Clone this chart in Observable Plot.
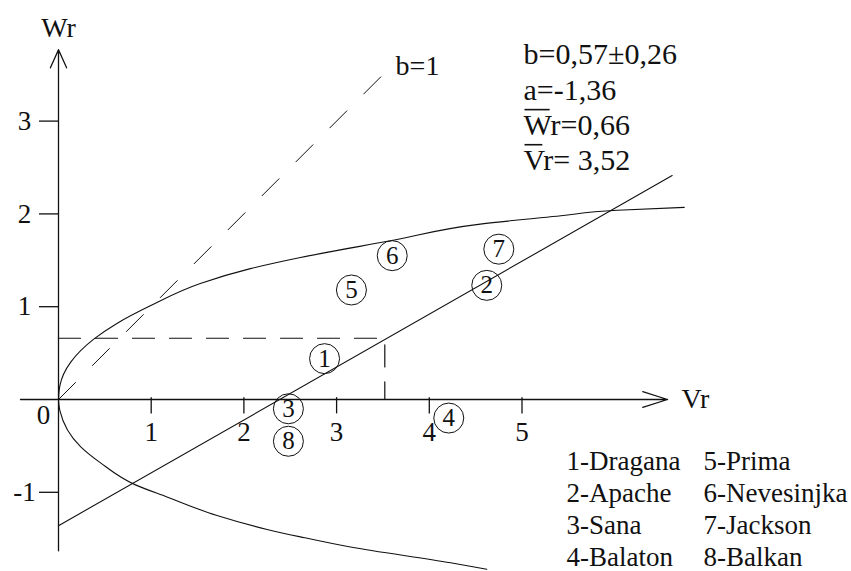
<!DOCTYPE html>
<html>
<head>
<meta charset="utf-8">
<script src="https://cdn.jsdelivr.net/npm/d3@7"></script>
<script src="https://cdn.jsdelivr.net/npm/@observablehq/plot@0.6"></script>
<style>
  html, body { margin: 0; padding: 0; background: #fff; }
  #chart svg { display: block; }
</style>
</head>
<body>
<div id="chart"></div>
<script>
// Genotypes placed on the Vr–Wr plane
const genotypeIds = ["1", "2", "3", "4", "5", "6", "7", "8"];
const genotypeVr  = [2.87, 4.62, 2.48, 4.21, 3.16, 3.60, 4.75, 2.48];
const genotypeWr  = [0.44, 1.23, -0.10, -0.20, 1.18, 1.55, 1.62, -0.45];

// Limiting parabola, upper and lower branches
const parabolaUpperVr = [0, 0.015, 0.13, 0.38, 0.63, 0.99, 1.53, 2.07, 2.61, 3.58, 4.55, 5.42, 6.03, 6.75];
const parabolaUpperWr = [0, 0.15, 0.40, 0.65, 0.82, 1.01, 1.25, 1.41, 1.53, 1.71, 1.89, 1.98, 2.04, 2.07];
const parabolaLowerVr = [0, 0.015, 0.24, 0.45, 0.83, 1.17, 1.71, 2.25, 2.61, 3.15, 4.23, 4.62];
const parabolaLowerWr = [0, -0.12, -0.51, -0.68, -0.92, -1.05, -1.25, -1.40, -1.48, -1.59, -1.76, -1.83];

// Regression of Wr on Vr and the means
const slopeB = 0.57;
const slopeErr = 0.26;
const interceptA = -1.36;
const meanWr = 0.66;
const meanVr = 3.52;
const regressionVrEnd = 6.62;
const unitSlopeEnd = 3.55;

// Axis ticks and extents
const xTicks = [1, 2, 3, 4, 5];
const yTicks = [-1, 1, 2, 3];
const xAxisExtent = [-0.41, 6.57];
const yAxisExtent = [-1.63, 3.77];

// Legend
const legendLeft  = ["1-Dragana", "2-Apache", "3-Sana", "4-Balaton"];
const legendRight = ["5-Prima", "6-Nevesinjka", "7-Jackson", "8-Balkan"];

const fmt = v => String(v).replace(".", ",");
const statLines = [
  `b=${fmt(slopeB)}±${fmt(slopeErr)}`,
  `a=${fmt(interceptA)}`,
  `Wr=${fmt(meanWr)}`,
  `Vr= ${fmt(meanVr)}`
];

const genotypes = genotypeIds.map((id, i) => ({id, vr: genotypeVr[i], wr: genotypeWr[i]}));
const upper = parabolaUpperVr.map((v, i) => ({vr: v, wr: parabolaUpperWr[i]}));
const lower = parabolaLowerVr.map((v, i) => ({vr: v, wr: parabolaLowerWr[i]}));
const regression = [0, regressionVrEnd].map(v => ({vr: v, wr: interceptA + slopeB * v}));
const unitLine = [0, unitSlopeEnd].map(v => ({vr: v, wr: v}));
const meanGuide = [
  {vr: 0, wr: meanWr},
  {vr: meanVr, wr: meanWr},
  {vr: meanVr, wr: 0}
];

const ink = "#111";
const serif = "'Liberation Serif', 'Times New Roman', serif";

const chart = Plot.plot({
  width: 851,
  height: 571,
  margin: 0,
  x: {domain: [0, 5], range: [58, 521.5], axis: null},
  y: {domain: [0, 3], range: [399, 120.6], axis: null},
  style: {fontFamily: serif, background: "#fff", color: ink},
  marks: [
    // axes with open arrowheads
    Plot.arrow([0], {x1: xAxisExtent[0], x2: xAxisExtent[1], y1: 0, y2: 0,
      stroke: ink, strokeWidth: 1.3, headAngle: 35, headLength: 30}),
    Plot.arrow([0], {x1: 0, x2: 0, y1: yAxisExtent[0], y2: yAxisExtent[1],
      stroke: ink, strokeWidth: 1.3, headAngle: 48, headLength: 23}),
    Plot.ruleX(xTicks, {x: d => d, y1: 0.02, y2: -0.155, stroke: ink, strokeWidth: 1.3}),
    Plot.ruleY(yTicks, {y: d => d, x1: -0.205, x2: 0, stroke: ink, strokeWidth: 1.3}),
    Plot.text(xTicks, {x: d => d, y: 0, dy: 33, text: d => String(d), fontSize: 27, fill: ink}),
    Plot.text(yTicks, {x: 0, y: d => d, dx: -34, text: d => String(d), fontSize: 27, fill: ink}),
    Plot.text(["0"], {x: 0, y: 0, dx: -15, dy: 16, text: d => d, fontSize: 27, fill: ink}),
    Plot.text(["Wr"], {x: 0, y: yAxisExtent[1], dy: -22, text: d => d, fontSize: 28, fill: ink}),
    Plot.text(["Vr"], {x: xAxisExtent[1], y: 0, dx: 14, dy: 0, text: d => d, textAnchor: "start", fontSize: 28, fill: ink}),

    // parabola
    Plot.line(upper, {x: "vr", y: "wr", curve: "monotone-y", stroke: ink, strokeWidth: 1.1}),
    Plot.line(lower, {x: "vr", y: "wr", curve: "monotone-y", stroke: ink, strokeWidth: 1.1}),

    // unit slope reference
    Plot.line(unitLine, {x: "vr", y: "wr", stroke: ink, strokeWidth: 1, strokeDasharray: "24,24"}),
    Plot.text(["b=1"], {x: unitSlopeEnd, y: unitSlopeEnd, dx: 8, dy: -4, text: d => d, textAnchor: "start", fontSize: 28, fill: ink}),

    // means
    Plot.line(meanGuide, {x: "vr", y: "wr", stroke: ink, strokeWidth: 1.2, strokeDasharray: "22,15"}),

    // regression line
    Plot.line(regression, {x: "vr", y: "wr", stroke: ink, strokeWidth: 1.1}),

    // genotypes
    Plot.dot(genotypes, {x: "vr", y: "wr", r: 15, stroke: ink, strokeWidth: 1, fill: "none"}),
    Plot.text(genotypes, {x: "vr", y: "wr", text: "id", fontSize: 25, fill: ink}),

    // statistics
    Plot.text([statLines.join("\n")], {frameAnchor: "top-left", dx: 523, dy: 39, text: d => d,
      textAnchor: "start", lineAnchor: "top", lineHeight: 1.17, fontSize: 30, fill: ink}),

    // legend
    Plot.text([legendLeft.join("\n")], {frameAnchor: "top-left", dx: 566, dy: 447, text: d => d,
      textAnchor: "start", lineAnchor: "top", lineHeight: 1.18, fontSize: 27, fill: ink}),
    Plot.text([legendRight.join("\n")], {frameAnchor: "top-left", dx: 703, dy: 447, text: d => d,
      textAnchor: "start", lineAnchor: "top", lineHeight: 1.18, fontSize: 27, fill: ink})
  ]
});

document.getElementById("chart").appendChild(chart);

// bar over the mean symbols W and V, sized from the glyph extents
const svgNS = "http://www.w3.org/2000/svg";
for (const el of chart.querySelectorAll("text, tspan")) {
  if (el.children.length) continue;
  const s = el.textContent;
  if (s !== statLines[2] && s !== statLines[3]) continue;
  const box = el.getExtentOfChar(0);
  const textEl = el.closest("text");
  const bar = document.createElementNS(svgNS, "line");
  bar.setAttribute("x1", box.x + 1);
  bar.setAttribute("x2", box.x + box.width - 1);
  bar.setAttribute("y1", box.y + 2);
  bar.setAttribute("y2", box.y + 2);
  bar.setAttribute("stroke", ink);
  bar.setAttribute("stroke-width", 1.6);
  if (textEl.getAttribute("transform")) bar.setAttribute("transform", textEl.getAttribute("transform"));
  textEl.parentNode.appendChild(bar);
}
</script>
</body>
</html>
